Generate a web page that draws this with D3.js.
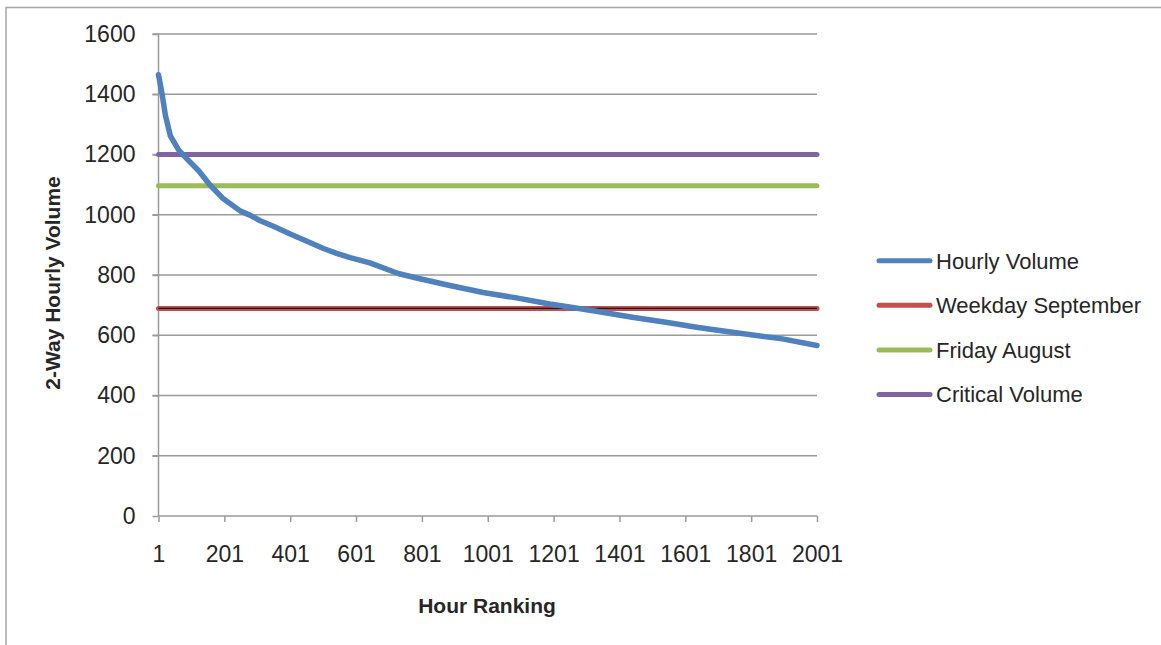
<!DOCTYPE html>
<html>
<head>
<meta charset="utf-8">
<script src="https://cdn.jsdelivr.net/npm/d3@7"></script>
<style>
  body { margin: 0; background: white; }
  svg { display: block; font-family: "Liberation Sans", Arial, sans-serif; }
</style>
</head>
<body>
<div id="chart"></div>
<script>
// hour ranking samples
const rankings = [1, 7, 12, 22, 37, 62, 88, 123, 158, 199, 250, 280, 310, 350, 401, 452, 502,
    542, 583, 643, 729, 785, 886, 987, 1088, 1189, 1249, 1340, 1440, 1542, 1640, 1744, 1896, 2001];
const hourlyVolume = [1465, 1430, 1400, 1330, 1262, 1215, 1185, 1146, 1098, 1052, 1012, 998, 980,
    962, 936, 912, 888, 872, 858, 840, 805, 790, 765, 742, 724, 704, 694, 678, 660, 643, 626, 610, 588, 566];

const levelNames = ["Weekday September", "Friday August", "Critical Volume"];
const levelValues = [689, 1096, 1200];
const levelColors = ["#C0504D", "#9BBB59", "#8064A2"];

const legendNames = ["Hourly Volume", "Weekday September", "Friday August", "Critical Volume"];
const legendColors = ["#4F81BD", "#C0504D", "#9BBB59", "#8064A2"];

const xTicks = [1, 201, 401, 601, 801, 1001, 1201, 1401, 1601, 1801, 2001];
const yTicks = [0, 200, 400, 600, 800, 1000, 1200, 1400, 1600];

function renderChart () {
    const wSvg = 1161;
    const hSvg = 645;
    const left = 158.5;
    const right = 817;
    const top = 34;
    const bottom = 516;
    const gridColor = "#9a9a9a";
    const textColor = "#262626";

    let svg = d3.select("#chart")
        .append("svg")
        .attr("width", wSvg)
        .attr("height", hSvg);

    // chart frame (runs off the picture to the right and bottom)
    svg.append("rect")
        .attr("x", 6)
        .attr("y", 7.5)
        .attr("width", wSvg + 20)
        .attr("height", hSvg + 20)
        .attr("fill", "none")
        .attr("stroke", "#a6a6a6")
        .attr("stroke-width", 1.5);

    let xScale = d3.scaleLinear([1, 2001], [left, right]);
    let yScale = d3.scaleLinear([0, 1600], [bottom, top]);

    // gridlines
    svg.append("g")
        .selectAll("line")
        .data(yTicks.filter(d => d > 0))
        .enter()
        .append("line")
        .attr("x1", left - 6)
        .attr("x2", right)
        .attr("y1", d => yScale(d))
        .attr("y2", d => yScale(d))
        .attr("stroke", gridColor)
        .attr("stroke-width", 1.5);

    let yAxis = d3.axisLeft(yScale).tickValues(yTicks).tickSize(6).tickPadding(17)
        .tickFormat(d3.format("d"));
    let yG = svg.append("g")
        .attr("transform", `translate(${left}, 0)`)
        .call(yAxis);
    yG.selectAll("text")
        .attr("fill", textColor)
        .style("font-size", "23px");

    let xAxis = d3.axisBottom(xScale).tickValues(xTicks).tickSize(6).tickPadding(24)
        .tickFormat(d3.format("d"));
    let xG = svg.append("g")
        .attr("transform", `translate(0, ${bottom})`)
        .call(xAxis);
    xG.selectAll("text")
        .attr("fill", textColor)
        .style("font-size", "23px");

    svg.selectAll(".domain").attr("stroke", gridColor).attr("stroke-width", 1.5);
    svg.selectAll(".tick line").attr("stroke", gridColor).attr("stroke-width", 1.5);
    // remove the outer tick stubs d3 adds on the domain path
    yG.select(".domain").attr("d", `M0,${top}V${bottom}`);
    xG.select(".domain").attr("d", `M${left},0H${right}`);

    // reference levels
    let levels = levelNames.map((n, i) => ({ name: n, value: levelValues[i], color: levelColors[i] }));
    svg.append("g")
        .selectAll("line")
        .data(levels)
        .enter()
        .append("line")
        .attr("x1", xScale(1))
        .attr("x2", xScale(2001))
        .attr("y1", d => yScale(d.value))
        .attr("y2", d => yScale(d.value))
        .attr("stroke", d => d.color)
        .attr("stroke-width", 5)
        .attr("stroke-linecap", "round");

    // thin dark line running through the weekday level
    svg.append("line")
        .attr("x1", xScale(1))
        .attr("x2", xScale(2001))
        .attr("y1", yScale(levelValues[0]))
        .attr("y2", yScale(levelValues[0]))
        .attr("stroke", "#1a1a1a")
        .attr("stroke-width", 1.3);

    let line = d3.line()
        .x(d => xScale(d[0]))
        .y(d => yScale(d[1]));

    svg.append("path")
        .datum(rankings.map((r, i) => [r, hourlyVolume[i]]))
        .attr("d", line)
        .attr("fill", "none")
        .attr("stroke", "#4F81BD")
        .attr("stroke-width", 5.5)
        .attr("stroke-linejoin", "round")
        .attr("stroke-linecap", "round");

    // axis titles
    svg.append("text")
        .attr("x", 487)
        .attr("y", 613)
        .attr("text-anchor", "middle")
        .attr("fill", textColor)
        .style("font-size", "21px")
        .style("font-weight", "bold")
        .text("Hour Ranking");

    svg.append("text")
        .attr("transform", "translate(60, 283) rotate(-90)")
        .attr("text-anchor", "middle")
        .attr("fill", textColor)
        .style("font-size", "21px")
        .style("font-weight", "bold")
        .text("2-Way Hourly Volume");

    // legend
    let legend = svg.append("g")
        .selectAll("g")
        .data(legendNames)
        .enter()
        .append("g")
        .attr("transform", (d, i) => `translate(879, ${260.7 + i * 44.6})`);

    legend.append("line")
        .attr("x1", 0)
        .attr("x2", 51)
        .attr("stroke", (d, i) => legendColors[i])
        .attr("stroke-width", 5)
        .attr("stroke-linecap", "round");

    legend.append("text")
        .attr("x", 57)
        .attr("dy", "0.36em")
        .attr("fill", textColor)
        .style("font-size", "22px")
        .text(d => d);
}

renderChart();
</script>
</body>
</html>
